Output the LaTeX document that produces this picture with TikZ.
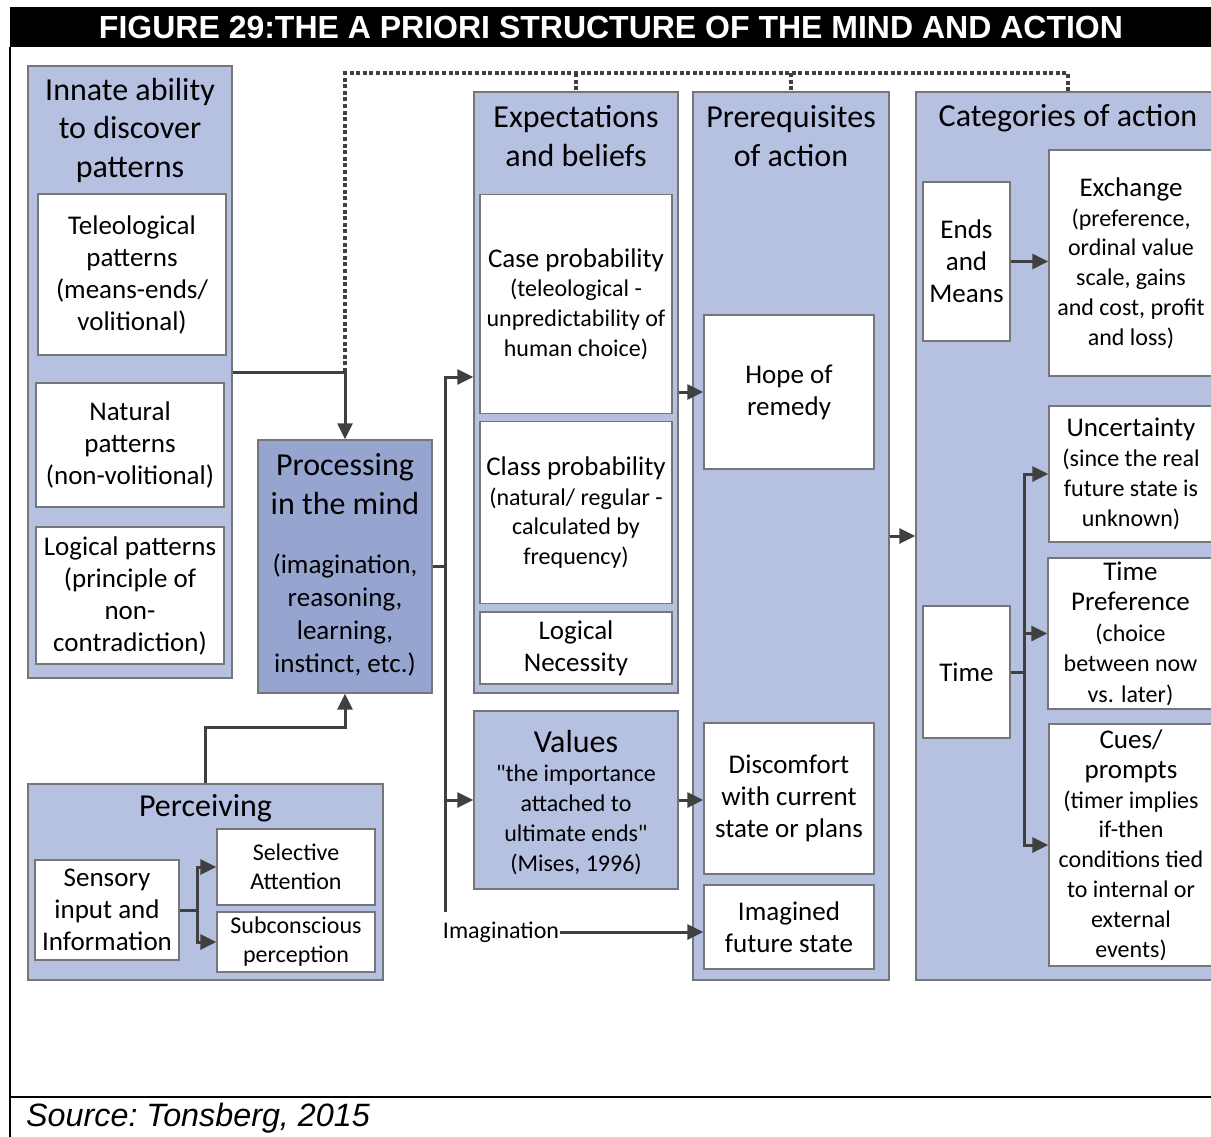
\documentclass[tikz,border=0pt]{standalone}
\usepackage{fontspec}
\setmainfont{Carlito}
\newfontfamily\arialfont{Liberation Sans}
\usetikzlibrary{arrows.meta,calc}

% plain Carlito without the TeX quote mapping, for straight quotes
\font\straightquote="Carlito" at 24pt

\definecolor{panel}{RGB}{182,192,224}
\definecolor{paneldark}{RGB}{150,164,208}
\definecolor{edgegray}{RGB}{118,118,118}
\definecolor{linkgray}{RGB}{64,64,64}

\newcommand\fhead{\fontsize{32}{38.5}\selectfont}
\newcommand\fbody{\fontsize{27}{32}\selectfont}
\newcommand\fsub{\fontsize{24}{29.8}\selectfont}
\newcommand\fsel{\fontsize{24}{29}\selectfont}
\newcommand\sq{{\straightquote"}}

\begin{document}
\begin{tikzpicture}[x=1pt,y=-1pt,
  panelbox/.style={draw=edgegray, line width=1.3pt, fill=panel, inner sep=0pt},
  whitebox/.style={draw=edgegray, line width=1.3pt, fill=white, inner sep=0pt, align=center},
  hdr/.style={font=\fhead, align=center, inner sep=0pt},
  bodytext/.style={font=\fbody, align=center, inner sep=0pt},
  subtext/.style={font=\fsub, align=center, inner sep=0pt},
  conn/.style={draw=linkgray, line width=3pt},
  arr/.style={conn, -{Triangle[length=16pt,width=15pt]}},
  dots/.style={draw=linkgray, line width=3.2pt, dash pattern=on 4pt off 2.6pt}
]
\useasboundingbox (0,0) rectangle (1211,1136);
\clip (0,0) rectangle (1211,1136);

% title bar and frame
\fill[black] (10,7) rectangle (1215,47);
\node[text=white, font=\arialfont\bfseries\fontsize{32}{38}\selectfont, inner sep=0pt] (title) at (611,27) {FIGURE 29:THE A PRIORI STRUCTURE OF THE MIND AND ACTION};
\draw[black, line width=2pt] (10,47) -- (10,1140);
\draw[black, line width=2pt] (10,1097) -- (1215,1097);
\node[anchor=base west, font=\arialfont\itshape\fontsize{32.3}{36}\selectfont, inner sep=0pt] (source) at (26,1126) {\frenchspacing Source: Tonsberg, 2015};

% innate ability column
\node[panelbox, minimum width=204pt, minimum height=612pt] (innate) at (130,372) {};
\node[hdr] (innatetitle) at (130,130) {Innate ability\\to discover\\patterns};
\node[whitebox, font=\fbody, minimum width=188pt, minimum height=161pt] (teleo) at (132,274.5) {Teleological\\patterns\\(means-ends/\\volitional)};
\node[whitebox, font=\fbody, minimum width=188pt, minimum height=124pt] (natural) at (130,445) {Natural\\patterns\\(non-volitional)};
\node[whitebox, font=\fbody, minimum width=188pt, minimum height=137pt] (logpat) at (130,595.5) {Logical patterns\\(principle of\\non-\\contradiction)};

% processing
\node[panelbox, fill=paneldark, minimum width=174pt, minimum height=253pt] (proc) at (345,566.5) {};
\node[hdr] (proctitle) at (345,484) {Processing\\in the mind};
\node[bodytext, font=\fontsize{27}{33}\selectfont] (proctext) at (345,615) {(imagination,\\reasoning,\\learning,\\instinct, etc.)};

% perceiving
\node[panelbox, minimum width=355pt, minimum height=196pt] (perc) at (205.5,882) {};
\node[hdr] (perctitle) at (205.5,808) {Perceiving};
\node[whitebox, font=\fbody, minimum width=144pt, minimum height=100pt] (sensory) at (107,910) {Sensory\\input and\\Information};
\node[whitebox, font=\fsel, minimum width=158pt, minimum height=76pt] (selective) at (296,867) {Selective\\Attention};
\node[whitebox, font=\fsel, minimum width=158pt, minimum height=60pt] (subcon) at (296,942) {Subconscious\\perception};

% expectations and beliefs
\node[panelbox, minimum width=204pt, minimum height=601pt] (exp) at (576,392.5) {};
\node[hdr] (exptitle) at (576,136) {Expectations\\and beliefs};
\node[whitebox, font=\fsub, minimum width=192pt, minimum height=219pt] (case) at (576,304) {{\fbody Case probability}\\(teleological -\\unpredictability of\\human choice)};
\node[whitebox, font=\fsub, minimum width=192pt, minimum height=182pt] (class) at (576,512.5) {{\fbody Class probability}\\(natural/ regular -\\calculated by\\frequency)};
\node[whitebox, font=\fbody, minimum width=192pt, minimum height=72pt] (lognec) at (576,648) {Logical\\Necessity};

% values
\node[panelbox, minimum width=204pt, minimum height=178pt] (values) at (576,800) {};
\node[hdr] (valtitle) at (576,741) {Values};
\node[subtext] (valtext) at (576,820) {\sq the importance\\attached to\\ultimate ends\sq\\(Mises, 1996)};

% prerequisites of action
\node[panelbox, minimum width=196pt, minimum height=888pt] (pre) at (791,536) {};
\node[hdr] (pretitle) at (791,136) {Prerequisites\\of action};
\node[whitebox, font=\fbody, minimum width=170pt, minimum height=154pt] (hope) at (789,392) {Hope of\\remedy};
\node[whitebox, font=\fbody, minimum width=170pt, minimum height=151pt] (discomfort) at (789,798.5) {Discomfort\\with current\\state or plans};
\node[whitebox, font=\fbody, minimum width=170pt, minimum height=84pt] (imagined) at (789,927) {Imagined\\future state};

% categories of action
\node[panelbox, minimum width=297pt, minimum height=888pt] (cat) at (1064.5,536) {};
\node[hdr] (cattitle) at (1068,118) {Categories of action};
\node[whitebox, font=\fbody, minimum width=87pt, minimum height=159pt] (ends) at (966.5,261.5) {Ends\\and\\Means};
\node[whitebox, font=\fsub, minimum width=164pt, minimum height=226pt] (exchange) at (1131,263) {{\fbody Exchange}\\(preference,\\ordinal value\\scale, gains\\and cost, profit\\and loss)};
\node[whitebox, font=\fbody, minimum width=87pt, minimum height=132pt] (time) at (966.5,672) {Time};
\node[whitebox, font=\fsub, minimum width=164pt, minimum height=136pt] (uncert) at (1131,474) {{\fbody Uncertainty}\\(since the real\\future state is\\unknown)};
\node[whitebox, font=\fontsize{24}{30.5}\selectfont, minimum width=165pt, minimum height=151pt] (tpref) at (1130.5,633.5) {{\fbody Time}\\{\fbody Preference}\\(choice\\between now\\vs. later)};
\node[whitebox, font=\fsub, minimum width=164pt, minimum height=242pt] (cues) at (1131,845) {{\fbody Cues/}\\{\fbody prompts}\\(timer implies\\if-then\\conditions tied\\to internal or\\external\\events)};

% label on the imagination branch
\node[font=\fontsize{24}{28}\selectfont, inner sep=1pt] (imag) at (501,932) {Imagination};

% junction points
\coordinate (dtop) at (345,73);
\coordinate (ptrunk) at (445,566);
\coordinate (pbend) at (205,727);
\coordinate (strunk) at (197,910);
\coordinate (ttrunk) at (1024,672);

% dotted feedback line across the top
\draw[dots] (proc.north |- innate.east) -- (proc.north |- dtop) -- (cattitle |- dtop) -- (cattitle |- cat.north);
\draw[dots] (exp.north |- dtop) -- (exp.north);
\draw[dots] (pre.north |- dtop) -- (pre.north);

% innate patterns into processing
\draw[arr] (innate.east) -| (proc.north);

% perceiving into processing
\draw[arr] (perc.north) -- (perc.north |- pbend) -| (proc.south);
\draw[conn] (sensory.east) -- (strunk);
\draw[arr] (strunk) |- (selective.west);
\draw[arr] (strunk) |- (subcon.west);

% processing branches
\draw[conn] (proc.east |- ptrunk) -- (ptrunk);
\draw[arr] (ptrunk) |- (exp.west |- 0,377);
\draw[arr] (ptrunk) |- (values.west);
\draw[conn] (ptrunk) -- (ptrunk |- 0,912);
\draw[arr] (imag.east) -- (imag.east -| imagined.west);

% into prerequisites
\draw[arr] (exp.east |- hope.west) -- (hope.west);
\draw[arr] (values.east) -- (values.east -| discomfort.west);

% into categories
\draw[arr] (pre.east) -- (cat.west);
\draw[arr] (ends.east) -- (ends.east -| exchange.west);
\draw[conn] (time.east) -- (ttrunk);
\draw[arr] (ttrunk) |- (uncert.west);
\draw[arr] (ttrunk) |- (tpref.west);
\draw[arr] (ttrunk) |- (cues.west);
\end{tikzpicture}
\end{document}
